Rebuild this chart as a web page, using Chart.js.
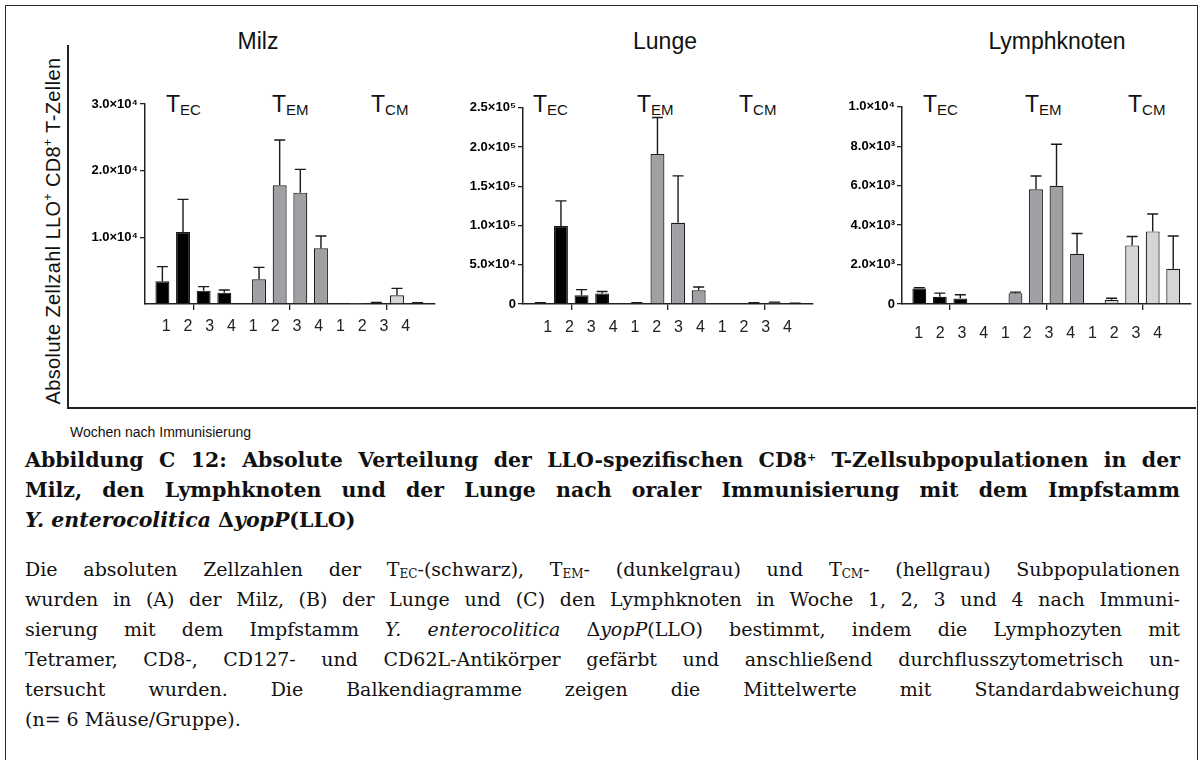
<!DOCTYPE html>
<html lang="de">
<head>
<meta charset="utf-8">
<script src="https://cdn.jsdelivr.net/npm/chart.js@4.4.1/dist/chart.umd.min.js"></script>
<style>
  html, body { margin:0; padding:0; background:#fff; }
  body { width:1204px; height:760px; position:relative; overflow:hidden; font-family:"Liberation Sans", Arial, sans-serif; color:#111; }
  .frame { position:absolute; left:5px; top:5px; width:1191px; height:800px; border:1.5px solid #2a2a2a; }
  .vaxis { position:absolute; left:67px; top:45px; width:2px; height:364px; background:#222; }
  .haxis { position:absolute; left:67px; top:407px; width:1129px; height:2px; background:#222; }
  .ytitle { position:absolute; left:53px; top:231px; transform:translate(-50%,-50%) rotate(-90deg); white-space:nowrap; font-size:20px; letter-spacing:0.4px; color:#111; }
  .ytitle sup { font-size:12px; vertical-align:8px; line-height:0; }
  .xtitle { position:absolute; left:70px; top:424px; font-size:14px; white-space:nowrap; color:#111; }
  .ptitle { position:absolute; top:30px; font-size:23px; white-space:nowrap; transform:translateX(-50%); color:#111; line-height:23px; }
  .grp { position:absolute; top:93px; font-size:23px; line-height:23px; white-space:nowrap; color:#111; }
  .grp sub { font-size:15px; vertical-align:-3px; line-height:0; }
  canvas { position:absolute; }
  .cap { position:absolute; left:25px; width:1155px; font-family:"DejaVu Serif", "Liberation Serif", serif; font-size:19px; line-height:30px; color:#111; }
  .j { text-align:justify; text-align-last:justify; }
  .head { font-weight:bold; font-size:20.5px; }
  .cap sup { font-size:11px; vertical-align:6px; line-height:0; }
  .cap sub { font-size:12px; vertical-align:-2px; line-height:0; }
</style>
</head>
<body>
<div class="frame"></div>
<div class="vaxis"></div>
<div class="haxis"></div>
<div class="ytitle">Absolute Zellzahl LLO<sup>+</sup> CD8<sup>+</sup> T-Zellen</div>
<div class="xtitle">Wochen nach Immunisierung</div>

<div class="ptitle" style="left:258px">Milz</div>
<div class="ptitle" style="left:665px">Lunge</div>
<div class="ptitle" style="left:1057px">Lymphknoten</div>

<div class="grp" style="left:166px">T<sub>EC</sub></div>
<div class="grp" style="left:272px">T<sub>EM</sub></div>
<div class="grp" style="left:371px">T<sub>CM</sub></div>
<div class="grp" style="left:533px">T<sub>EC</sub></div>
<div class="grp" style="left:637px">T<sub>EM</sub></div>
<div class="grp" style="left:739px">T<sub>CM</sub></div>
<div class="grp" style="left:923px">T<sub>EC</sub></div>
<div class="grp" style="left:1025px">T<sub>EM</sub></div>
<div class="grp" style="left:1128px">T<sub>CM</sub></div>

<canvas id="milz" width="375" height="260" style="left:70px;top:90px;width:375px;height:260px"></canvas>
<canvas id="lunge" width="370" height="260" style="left:450px;top:90px;width:370px;height:260px"></canvas>
<canvas id="lymph" width="374" height="260" style="left:830px;top:90px;width:374px;height:260px"></canvas>

<div class="cap head" style="top:445px">
  <div class="j">Abbildung C 12: Absolute Verteilung der LLO-spezifischen CD8<sup>+</sup> T-Zellsubpopulationen in der</div>
  <div class="j">Milz, den Lymphknoten und der Lunge nach oraler Immunisierung mit dem Impfstamm</div>
  <div><i>Y. enterocolitica</i> Δ<i>yopP</i>(LLO)</div>
</div>
<div class="cap" style="top:554px">
  <div class="j">Die absoluten Zellzahlen der T<sub>EC</sub>-(schwarz), T<sub>EM</sub>- (dunkelgrau) und T<sub>CM</sub>- (hellgrau) Subpopulationen</div>
  <div class="j">wurden in (A) der Milz, (B) der Lunge und (C) den Lymphknoten in Woche 1, 2, 3 und 4 nach Immuni-</div>
  <div class="j">sierung mit dem Impfstamm <i>Y. enterocolitica</i> Δ<i>yopP</i>(LLO) bestimmt, indem die Lymphozyten mit</div>
  <div class="j">Tetramer, CD8-, CD127- und CD62L-Antikörper gefärbt und anschließend durchflusszytometrisch un-</div>
  <div class="j">tersucht wurden. Die Balkendiagramme zeigen die Mittelwerte mit Standardabweichung</div>
  <div>(n= 6 Mäuse/Gruppe).</div>
</div>

<script>
// ---------- data ----------
const weekLabels = ['1', '2', '3', '4'];
const subsetLabels = ['TEC', 'TEM', 'TCM'];
const subsetColors = ['#000000', '#9f9fa4', '#d5d5d5'];

// Milz (means, SD) for weeks 1..4
const milzTEC = [3400, 10800, 2000, 1700];
const milzTECsd = [2200, 4900, 600, 400];
const milzTEM = [3700, 17800, 16700, 8350];
const milzTEMsd = [1800, 6800, 3500, 1850];
const milzTCM = [50, 150, 1320, 150];
const milzTCMsd = [0, 80, 1030, 40];

// Lunge
const lungeTEC = [1500, 99200, 11200, 13400];
const lungeTECsd = [300, 32100, 7100, 2600];
const lungeTEM = [1500, 191000, 103500, 17400];
const lungeTEMsd = [300, 46600, 59700, 4300];
const lungeTCM = [0, 1200, 2000, 800];
const lungeTCMsd = [0, 300, 400, 200];

// Lymphknoten
const lymphTEC = [780, 365, 280, 0];
const lymphTECsd = [40, 185, 190, 0];
const lymphTEM = [550, 5810, 5990, 2550];
const lymphTEMsd = [50, 680, 2110, 1020];
const lymphTCM = [210, 2970, 3680, 1790];
const lymphTCMsd = [80, 450, 880, 1660];

// y-axis ranges / tick steps
const milzYMax = 30000, milzYStep = 10000;
const lungeYMax = 250000, lungeYStep = 50000;
const lymphYMax = 10000, lymphYStep = 2000;

// ---------- helpers ----------
const SUP = {'0':'⁰','1':'¹','2':'²','3':'³','4':'⁴','5':'⁵','6':'⁶','7':'⁷','8':'⁸','9':'⁹'};
function sci(v) {
  if (v === 0) return '0';
  const e = Math.floor(Math.log10(v) + 1e-9);
  const m = v / Math.pow(10, e);
  return m.toFixed(1) + '×10' + String(e).split('').map(c => SUP[c]).join('');
}

function buildDatasets(tec, tecSd, tem, temSd, tcm, tcmSd) {
  return weekLabels.map((w, i) => ({
    label: 'Woche ' + w,
    xAxisID: 'x', yAxisID: 'y',
    data: [tec[i], tem[i], tcm[i]],
    errors: [tecSd[i], temSd[i], tcmSd[i]],
    backgroundColor: subsetColors,
    borderColor: '#1a1a1a',
    borderWidth: 1.2,
    categoryPercentage: 0.854,
    barPercentage: 0.676
  }));
}

const errorBars = {
  id: 'errorBars',
  afterDatasetsDraw(chart) {
    const ctx = chart.ctx, ys = chart.scales.y;
    chart.data.datasets.forEach((ds, i) => {
      const meta = chart.getDatasetMeta(i);
      meta.data.forEach((bar, j) => {
        const e = ds.errors[j];
        if (!e) return;
        const top = ys.getPixelForValue(ds.data[j] + e);
        ctx.save();
        ctx.strokeStyle = '#1a1a1a';
        ctx.lineWidth = 1.4;
        ctx.beginPath();
        ctx.moveTo(bar.x, bar.y);
        ctx.lineTo(bar.x, top);
        ctx.moveTo(bar.x - 5.5, top);
        ctx.lineTo(bar.x + 5.5, top);
        ctx.stroke();
        ctx.restore();
      });
    });
  }
};

function makeChart(id, datasets, cfg) {
  return new Chart(document.getElementById(id), {
    type: 'bar',
    data: { labels: subsetLabels, datasets },
    plugins: [errorBars],
    options: {
      responsive: false,
      animation: false,
      devicePixelRatio: 1,
      layout: { padding: { top: cfg.padTop, right: cfg.padRight, left: 0, bottom: 0 } },
      plugins: { legend: { display: false }, tooltip: { enabled: false } },
      scales: {
        x: {
          type: 'category',
          offset: true,
          grid: { offset: false, drawOnChartArea: false, drawTicks: true, tickLength: 6, color: '#222', lineWidth: 1.3 },
          border: { color: '#222', width: 1.5 },
          ticks: { display: false },
          afterFit: s => { s.height = 6; }
        },
        wk: {
          type: 'linear',
          position: 'bottom',
          min: cfg.wkMin, max: cfg.wkMax,
          grid: { display: false, drawTicks: false },
          border: { display: false },
          ticks: {
            stepSize: 1, autoSkip: false, includeBounds: false, maxRotation: 0,
            padding: cfg.wkPad,
            color: '#222',
            font: { family: '"Liberation Sans", Arial, sans-serif', size: 16 },
            callback: v => weekLabels[((v % 4) + 4) % 4]
          },
          afterFit: s => { s.height = 40; }
        },
        y: {
          min: 0, max: cfg.yMax,
          ticks: {
            stepSize: cfg.yStep,
            padding: 2,
            color: '#000',
            font: { family: '"Liberation Sans", Arial, sans-serif', size: 13, weight: 'bold' },
            callback: v => (v === 0 && cfg.hideZero) ? '' : sci(v)
          },
          grid: {
            drawOnChartArea: false, tickLength: 5, lineWidth: 1.3,
            color: c => (cfg.hideZero && c.tick && c.tick.value === 0) ? 'rgba(0,0,0,0)' : '#222'
          },
          border: { color: '#222', width: 1.5 },
          afterFit: s => { s.width = cfg.yWidth; }
        }
      }
    }
  });
}

makeChart('milz', buildDatasets(milzTEC, milzTECsd, milzTEM, milzTEMsd, milzTCM, milzTCMsd),
  { padTop: 14, padRight: 10, yWidth: 75, yMax: milzYMax, yStep: milzYStep, hideZero: true,
    wkMin: -0.42, wkMax: 11.79, wkPad: 7 });
makeChart('lunge', buildDatasets(lungeTEC, lungeTECsd, lungeTEM, lungeTEMsd, lungeTCM, lungeTCMsd),
  { padTop: 17.7, padRight: 7.5, yWidth: 73, yMax: lungeYMax, yStep: lungeYStep, hideZero: false,
    wkMin: -0.577, wkMax: 11.59, wkPad: 8 });
makeChart('lymph', buildDatasets(lymphTEC, lymphTECsd, lymphTEM, lymphTEMsd, lymphTCM, lymphTCMsd),
  { padTop: 16.7, padRight: 13.5, yWidth: 72, yMax: lymphYMax, yStep: lymphYStep, hideZero: false,
    wkMin: -0.21, wkMax: 11.96, wkPad: 14 });
</script>
</body>
</html>
